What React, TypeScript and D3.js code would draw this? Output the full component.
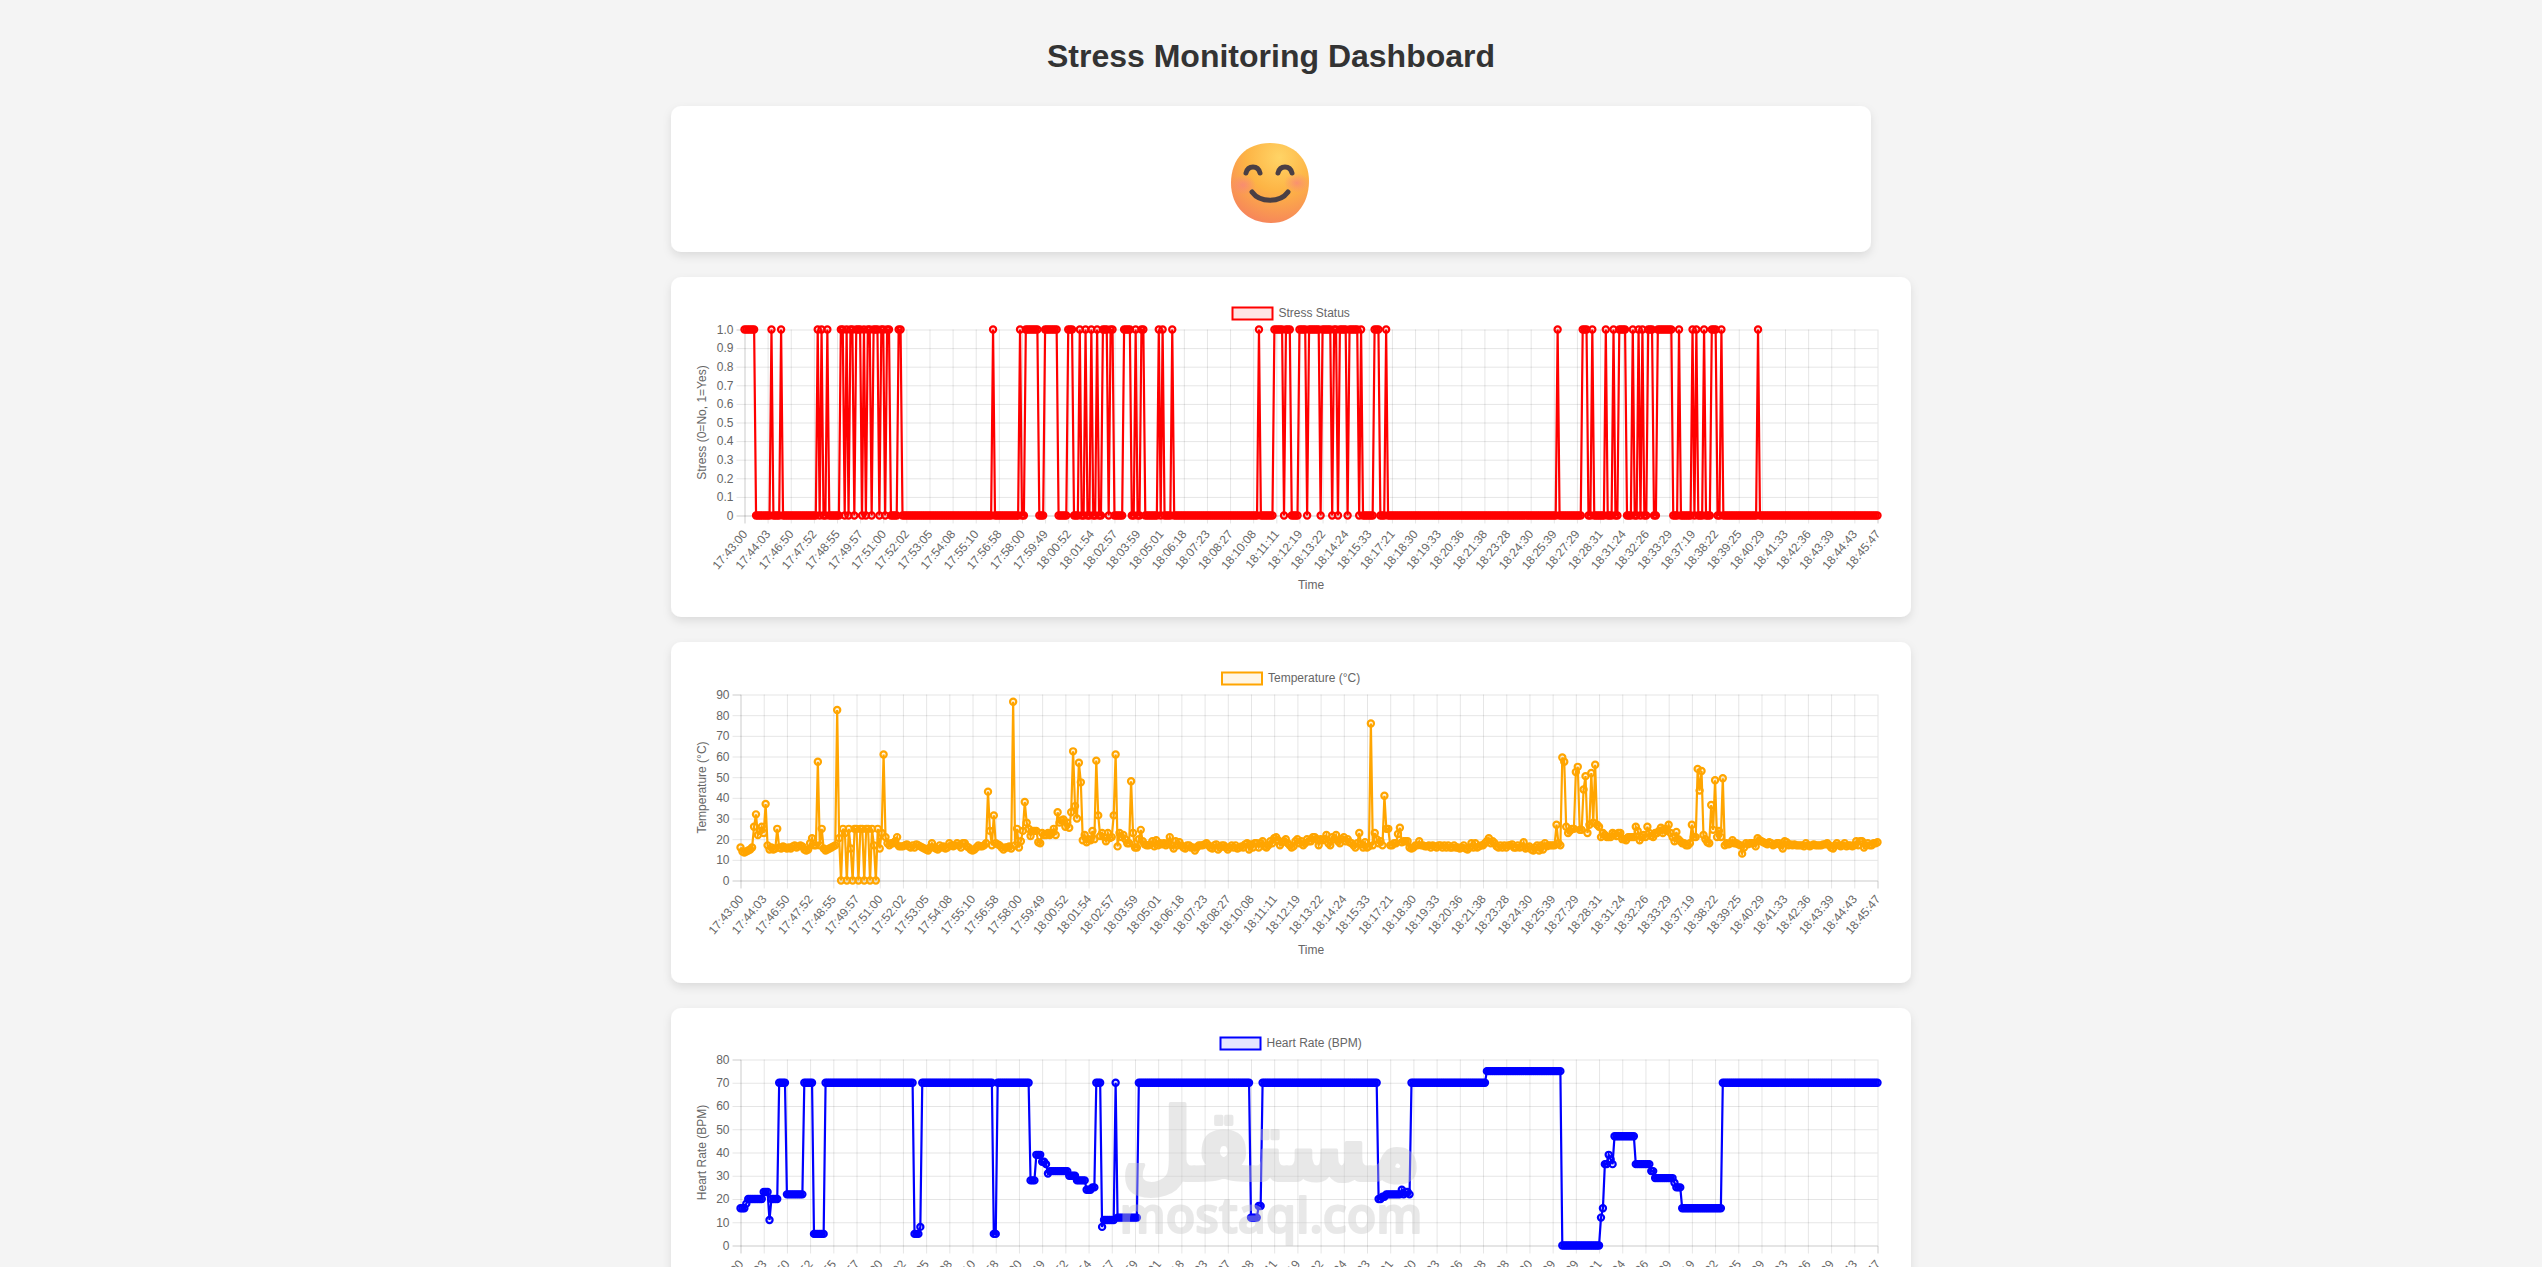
import React, { useEffect, useRef } from 'react'
import { select, scaleLinear, scalePoint, range, line, axisLeft, axisBottom } from 'd3'

// clock labels Chart.js kept on the x axis, one every 12 samples
const timeLabels = [
  '17:43:00', '17:44:03', '17:46:50', '17:47:52', '17:48:55', '17:49:57', '17:51:00', '17:52:02', '17:53:05', '17:54:08',
  '17:55:10', '17:56:58', '17:58:00', '17:59:49', '18:00:52', '18:01:54', '18:02:57', '18:03:59', '18:05:01', '18:06:18',
  '18:07:23', '18:08:27', '18:10:08', '18:11:11', '18:12:19', '18:13:22', '18:14:24', '18:15:33', '18:17:21', '18:18:30',
  '18:19:33', '18:20:36', '18:21:38', '18:23:28', '18:24:30', '18:25:39', '18:27:29', '18:28:31', '18:31:24', '18:32:26',
  '18:33:29', '18:37:19', '18:38:22', '18:39:25', '18:40:29', '18:41:33', '18:42:36', '18:43:39', '18:44:43', '18:45:47'
]
const samplesPerLabel = 12
const sampleCount = (timeLabels.length - 1) * samplesPerLabel + 1

// sample ranges (inclusive) where stress read 1, everything else is 0
const stressOnRanges = [
  [0, 5], [14, 14], [19, 19], [38, 38], [40, 40], [43, 43], [50, 51], [53, 53], [55, 56], [58, 60], [62, 62], [64, 65],
  [67, 69], [71, 72], [74, 75], [80, 81], [129, 129], [143, 143], [146, 152], [156, 162], [168, 170], [174, 174],
  [177, 177], [180, 180], [183, 183], [186, 188], [190, 191], [197, 200], [203, 203], [206, 207], [215, 215], [217, 217],
  [222, 222], [267, 267], [275, 279], [281, 283], [288, 291], [293, 298], [300, 304], [306, 307], [309, 312], [314, 318],
  [320, 320], [327, 329], [333, 333], [422, 422], [435, 437], [440, 440], [447, 447], [451, 451], [454, 457], [461, 461],
  [464, 464], [466, 466], [469, 471], [474, 481], [485, 485], [492, 492], [494, 494], [498, 498], [502, 504], [507, 507],
  [526, 526]
]

const temperature = [
  16, 14, 13.5, 14, 14.5, 15, 16, 26, 32, 22, 24, 26,
  23, 37, 17, 15, 16, 15, 15.5, 25, 16, 15.5, 16.5, 16,
  15.5, 16, 15.5, 16.5, 17, 16, 16.5, 17, 16.5, 15, 14.5, 15,
  18, 20.5, 17, 17, 57.5, 17, 25, 15.5, 14.5, 15, 15.5, 16,
  16.5, 17, 82.5, 20.5, 0, 25, 23, 0, 25, 15.5, 0, 25,
  25, 0, 25, 25, 0, 25, 25, 0, 25, 17, 0, 25,
  15.5, 23, 61, 21, 18, 17, 18, 18, 19, 21, 16.5, 16.5,
  16.5, 17, 17.5, 16.5, 16, 17, 16, 17.5, 17, 16.5, 16, 15.5,
  15, 14.5, 16, 18, 16, 15.5, 15, 17, 16, 16.5, 15.5, 16,
  18, 17, 16.5, 17, 18, 17, 16, 18, 18, 16.5, 16, 15,
  14.5, 15, 16, 17, 16.5, 16.5, 17, 18, 43, 24, 17, 31.5,
  18, 17.5, 17, 16, 15, 16, 16, 16.5, 15.5, 86.5, 17, 25,
  16, 19, 24, 38, 28, 25, 21.5, 24, 24, 24, 18.5, 18,
  23, 22, 22, 23, 22, 23, 25, 22, 33, 28, 29, 29.5,
  26, 28, 25.5, 33, 62.5, 36, 30, 57, 47.5, 19.5, 22, 18.5,
  20, 19.5, 24, 20, 58, 31.5, 21.5, 23, 21, 19, 23, 20.5,
  21, 31.5, 61, 16.5, 23, 21, 22, 20, 18, 18, 48, 23,
  16, 16, 20, 24.5, 19, 17.5, 17, 17, 17.5, 19, 16.5, 19.5,
  17, 18, 17.5, 18, 17, 18, 21, 17, 15.5, 19, 17, 18.5,
  17, 16, 15.5, 17, 17, 16, 16, 14.5, 16, 17, 17, 17,
  17.5, 18, 17, 16, 15.5, 17, 17.5, 15, 16, 17, 17, 16,
  15, 16, 17, 16, 17, 15.5, 16, 16.5, 16, 17.5, 18, 15,
  17.5, 16, 18, 18, 16, 18, 19, 16.5, 16, 17, 19, 18,
  20.5, 21, 19.5, 17, 18.5, 19, 20, 18, 17, 16, 16.5, 19,
  20, 18, 19, 17, 18, 20, 19, 19, 21, 21, 20, 17,
  20, 19.5, 20, 22, 18, 17, 21, 20, 22, 19, 18, 20,
  21, 19, 20, 18.5, 18, 17, 16, 18, 23, 17.5, 16, 18.5,
  16, 16.5, 76, 17, 23, 20, 18, 19, 17, 41, 25, 25,
  17, 17, 18, 18, 22.5, 25.5, 18.5, 19, 19, 19, 16, 15.5,
  16, 17, 17, 19, 17, 17, 16.5, 16.5, 17, 16, 17, 16.5,
  16, 17, 17, 16, 17, 16, 17, 16, 16, 17, 16, 16,
  15.5, 16, 17, 15.5, 15, 16, 18, 16, 18, 16, 16.5, 17,
  17, 18, 19, 20.5, 18, 19, 18, 16.5, 16, 17, 16, 17,
  16, 17, 17, 17.5, 16, 16, 17, 16, 16.5, 18.5, 15.5, 16,
  16.5, 15, 14.5, 16, 17, 14.5, 17, 15, 18, 16.5, 17, 17,
  17, 17, 27, 18, 17, 59.5, 57.5, 26, 23, 24, 25, 25,
  52.5, 55, 24.5, 24.5, 44, 50.5, 23, 27, 52, 28, 56, 27,
  26, 21, 23, 22, 21, 21, 21, 23, 22.5, 21.5, 23, 23,
  20, 20, 19.5, 21, 21, 21, 21, 26, 24, 19.5, 21, 22,
  21, 26, 23, 21.5, 21, 23, 23, 24, 25.5, 23, 25, 24,
  27, 23, 21, 19, 23.5, 20, 19, 18, 18, 17, 17, 18,
  27, 21, 21, 54, 43.5, 53, 22, 20, 18.5, 18, 36.5, 24.5,
  48.5, 21, 24, 21, 49.5, 17, 18, 17.5, 18, 19.5, 18, 18,
  17.5, 17, 13, 16, 18, 17.5, 18, 18, 18, 16.5, 20.5, 19.5,
  19, 18.5, 18, 17.5, 18.5, 18, 17, 17.5, 18, 18, 17, 15.5,
  19, 18.5, 17, 17.5, 17, 17.5, 17, 17, 17, 17, 16.5, 18,
  17, 16.5, 17, 17.5, 17, 17, 17, 17, 17.5, 17.5, 18, 17,
  16, 15.5, 17, 18, 17, 16.5, 17, 18, 16.5, 17, 17, 16.5,
  17, 19, 17, 19, 19, 16, 17, 18, 17, 17, 18, 18, 18.5
]

// heart rate holds its value for long stretches: [bpm, how many samples]
const heartRateRuns = [
  [16, 3], [18, 1], [20, 8], [23, 3], [11, 1], [20, 4], [70, 4], [22, 9], [70, 5], [5, 6], [70, 46], [5, 3], [8, 1],
  [70, 37], [5, 2], [70, 17], [28, 3], [39, 3], [36, 2], [35, 1], [31, 1], [32, 10], [30, 4], [28, 5], [24, 3], [25, 2],
  [70, 3], [8, 1], [11, 6], [70, 1], [12, 11], [70, 58], [12, 4], [17, 2], [70, 60], [20, 2], [21, 2], [22, 8], [24, 1],
  [22, 1], [23, 2], [22, 1], [70, 39], [75, 39], [0, 20], [12, 1], [16, 1], [35, 2], [39, 1], [37, 1], [35, 1], [47, 11],
  [35, 8], [32, 2], [29, 10], [27, 1], [25, 3], [16, 21], [70, 81]
]

const stress = range(sampleCount).map(i => (stressOnRanges.some(([a, b]) => i >= a && i <= b) ? 1 : 0))
const heartRate = heartRateRuns.flatMap(([bpm, n]) => Array<number>(n).fill(bpm))

const stressTicks = range(0, 11).map(i => i / 10)
const temperatureTicks = range(0, 100, 10)
const heartRateTicks = range(0, 90, 10)

const FONT = '"Liberation Sans", Arial, sans-serif'
const GRID = 'rgba(0,0,0,0.1)'
const TEXT = '#666'

const panels = [
  {
    legend: 'Stress Status', yTitle: 'Stress (0=No, 1=Yes)', values: stress, ticks: stressTicks, yMax: 1,
    format: (d: number) => (d === 0 ? '0' : d.toFixed(1)),
    color: 'rgb(255,0,0)', fill: 'rgba(255,0,0,0.1)',
    card: [277, 340], plot: [744.5, 329.5, 1877.5, 515.5], legendX: 1232.5, titleX: 706, timeY: 586
  },
  {
    legend: 'Temperature (°C)', yTitle: 'Temperature (°C)', values: temperature, ticks: temperatureTicks, yMax: 90,
    format: String,
    color: 'rgb(255,165,0)', fill: 'rgba(255,165,0,0.1)',
    card: [642, 341], plot: [740.5, 694.5, 1877.5, 880.5], legendX: 1222, titleX: 706, timeY: 951
  },
  {
    legend: 'Heart Rate (BPM)', yTitle: 'Heart Rate (BPM)', values: heartRate, ticks: heartRateTicks, yMax: 80,
    format: String,
    color: 'rgb(0,0,255)', fill: 'rgba(0,0,255,0.1)',
    card: [1008, 340], plot: [740.5, 1059.5, 1877.5, 1245.5], legendX: 1220.5, titleX: 706, timeY: 1316
  }
]

const drawPanel = (svg: any, panel: any) => {
  const [left, top, right, bottom] = panel.plot
  const g = svg.append('g').attr('font-family', FONT).attr('font-size', 12)

  const x = scalePoint<number>().domain(range(sampleCount)).range([left, right])
  const y = scaleLinear().domain([0, panel.yMax]).range([bottom, top])

  // Chart.js style grid: lines run through the plot and stick out as tick marks
  const yAxis = axisLeft(y).tickValues(panel.ticks).tickFormat(panel.format).tickSize(8).tickPadding(3)
  const yG = g.append('g').attr('transform', `translate(${left},0)`).call(yAxis)
  yG.select('.domain').attr('stroke', GRID)
  yG.selectAll('.tick line').attr('stroke', GRID).attr('x2', right - left).attr('x1', -8)
  yG.selectAll('.tick text').attr('fill', TEXT).attr('font-size', 12).attr('font-family', FONT)

  const tickIndex = range(0, sampleCount, samplesPerLabel)
  const xAxis = axisBottom(x).tickValues(tickIndex).tickFormat((_: number, i: number) => timeLabels[i]).tickSize(8)
  const xG = g.append('g').attr('transform', `translate(0,${bottom})`).call(xAxis)
  xG.select('.domain').attr('stroke', GRID)
  xG.selectAll('.tick line').attr('stroke', GRID).attr('y1', top - bottom).attr('y2', 8)
  xG.selectAll('.tick text')
    .attr('fill', TEXT).attr('font-size', 12).attr('font-family', FONT)
    .attr('text-anchor', 'end').attr('dy', null)
    .attr('y', 0)
    .attr('transform', 'translate(3,19) rotate(-50)')

  g.append('text')
    .attr('transform', `translate(${panel.titleX},${(top + bottom) / 2}) rotate(-90)`)
    .attr('text-anchor', 'middle').attr('fill', TEXT).text(panel.yTitle)
  g.append('text')
    .attr('x', 1311).attr('y', panel.timeY).attr('text-anchor', 'middle').attr('dominant-baseline', 'middle')
    .attr('fill', TEXT).text('Time')

  const legendY = top - 22
  g.append('rect')
    .attr('x', panel.legendX).attr('y', legendY).attr('width', 40).attr('height', 12)
    .attr('fill', panel.fill).attr('stroke', panel.color).attr('stroke-width', 2)
  g.append('text')
    .attr('x', panel.legendX + 46).attr('y', legendY + 9)
    .attr('fill', TEXT).text(panel.legend)

  const path = line<number>().x((_, i) => x(i) as number).y(d => y(d))
  g.append('path')
    .attr('d', path(panel.values))
    .attr('fill', 'none').attr('stroke', panel.color).attr('stroke-width', 2.2)
  g.append('g')
    .selectAll('circle')
    .data(panel.values)
    .join('circle')
    .attr('cx', (_: number, i: number) => x(i))
    .attr('cy', (d: number) => y(d))
    .attr('r', 3.1)
    .attr('fill', panel.fill)
    .attr('stroke', panel.color)
    .attr('stroke-width', 2.2)
}

const App = () => {
  const svgRef = useRef<SVGSVGElement | null>(null)

  useEffect(() => {
    if (!svgRef.current) return
    const svg = select(svgRef.current)
    svg.selectAll('g.panels').remove()
    const root = svg.insert('g', '#watermark').attr('class', 'panels')
    panels.forEach(panel => drawPanel(root, panel))
  }, [])

  return (
    <div style={{ position: 'absolute', left: 0, top: 0, width: 2542, height: 1267, overflow: 'hidden', background: '#f4f4f4' }}>
      <svg ref={svgRef} width={2542} height={1267} style={{ display: 'block' }}>
        <defs>
          <filter id='cardShadow' x='-5%' y='-10%' width='110%' height='125%'>
            <feDropShadow dx='0' dy='4' stdDeviation='4' floodColor='#000' floodOpacity='0.1' />
          </filter>
          <radialGradient id='faceBase' cx='0.62' cy='0.18' r='0.95'>
            <stop offset='0' stopColor='#ffd466' />
            <stop offset='0.45' stopColor='#fdb445' />
            <stop offset='0.85' stopColor='#f78a58' />
            <stop offset='1' stopColor='#f5786a' />
          </radialGradient>
          <radialGradient id='blush'>
            <stop offset='0' stopColor='#f8857c' stopOpacity='0.75' />
            <stop offset='1' stopColor='#f8857c' stopOpacity='0' />
          </radialGradient>
        </defs>

        <text x={1271} y={67} textAnchor='middle' fontFamily={FONT} fontWeight='bold' fontSize={32} fill='#333'>
          Stress Monitoring Dashboard
        </text>

        <rect x={671} y={106} width={1200} height={146} rx={10} fill='#fff' filter='url(#cardShadow)' />
        {panels.map(p => (
          <rect key={p.legend} x={671} y={p.card[0]} width={1240} height={p.card[1]} rx={10} fill='#fff' filter='url(#cardShadow)' />
        ))}

        <g transform='translate(1270,183)'>
          <path d='M0,-40 C24,-40 39,-24 39,-2 C39,22 24,40 1,40 C-22,40 -39,24 -39,0 C-39,-24 -24,-40 0,-40 Z' fill='url(#faceBase)' />
          <ellipse cx={-27} cy={2} rx={13} ry={10} fill='url(#blush)' />
          <ellipse cx={27} cy={0} rx={13} ry={10} fill='url(#blush)' />
          <g fill='none' stroke='#4a3f45' strokeWidth={5} strokeLinecap='round'>
            <path d='M-24,-10 C-22,-18 -12,-18 -10,-10' />
            <path d='M8,-10 C10,-18 20,-18 22,-10' />
            <path d='M-18,9 C-10,20 10,20 18,9' />
          </g>
        </g>

        <g id='watermark' fill='rgb(200,200,200)' stroke='rgb(200,200,200)' strokeLinejoin='round' opacity={0.4}>
          <text
            x={1271} y={1180} textAnchor='middle' direction='rtl' fontFamily='"DejaVu Sans"' fontWeight='bold' fontSize={100}
            textLength={300} lengthAdjust='spacingAndGlyphs' strokeWidth={4}
          >
            مستقل
          </text>
          <text
            x={1271} y={1233} textAnchor='middle' fontFamily='"Open Sans", sans-serif' fontWeight='600' fontSize={48}
            textLength={303} lengthAdjust='spacingAndGlyphs' strokeWidth={2}
          >
            mostaql.com
          </text>
        </g>
      </svg>
    </div>
  )
}

export default App
